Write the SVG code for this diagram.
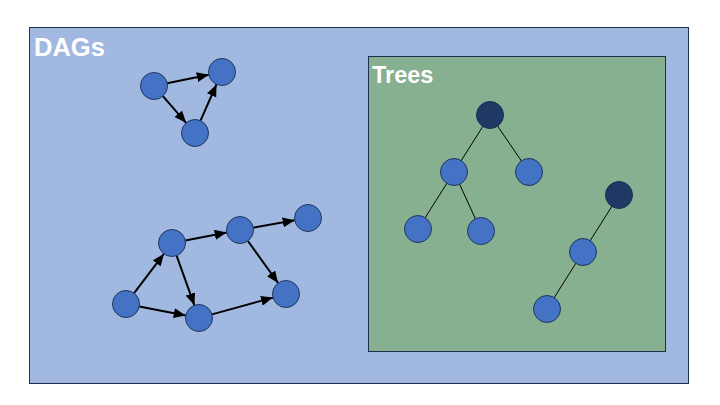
<svg xmlns="http://www.w3.org/2000/svg" width="720" height="405" viewBox="0 0 720 405">
<defs>
<marker id="ah" markerUnits="userSpaceOnUse" markerWidth="12" markerHeight="10" refX="12" refY="5" orient="auto">
<path d="M0,0 L12,5 L0,10 z" fill="#000"/>
</marker>
<style>
.node{fill:#4472C4;stroke:#22365E;stroke-width:1}
.root{fill:#1F3864;stroke:#1A2E52;stroke-width:1}
.arrow{stroke:#000;stroke-width:2;fill:none;marker-end:url(#ah)}
.tedge{stroke:#000;stroke-width:1;fill:none}
.title{font-family:"Liberation Sans",Arial,sans-serif;font-weight:bold;fill:#fff}
</style>
</defs>
<rect width="720" height="405" fill="#fff"/>
<g id="dags-panel">
<rect x="29.5" y="27.5" width="659" height="356" fill="#A1B8E0" stroke="#1F2F50" stroke-width="1"/>
<text class="title" x="34" y="56" font-size="25.5">DAGs</text>
</g>
<g id="trees-panel">
<rect x="368.5" y="56.5" width="297" height="295" fill="#86B08F" stroke="#1F2F50" stroke-width="1"/>
<text class="title" x="372" y="83" font-size="23.5">Trees</text>
</g>
<g id="connectors">
<line class="arrow" x1="167.2" y1="83.3" x2="208.8" y2="74.7"/>
<line class="arrow" x1="162.9" y1="96.2" x2="186.1" y2="122.8"/>
<line class="arrow" x1="200.5" y1="120.6" x2="216.5" y2="84.4"/>
<line class="arrow" x1="134.1" y1="293.2" x2="163.9" y2="253.8"/>
<line class="arrow" x1="139.3" y1="306.5" x2="185.7" y2="315.5"/>
<line class="arrow" x1="185.3" y1="240.5" x2="226.7" y2="232.5"/>
<line class="arrow" x1="176.6" y1="255.7" x2="194.4" y2="305.3"/>
<line class="arrow" x1="253.3" y1="227.7" x2="294.7" y2="220.3"/>
<line class="arrow" x1="247.9" y1="241.0" x2="278.1" y2="283.0"/>
<line class="arrow" x1="212.0" y1="314.4" x2="273.0" y2="297.6"/>
<line class="tedge" x1="490" y1="115" x2="454" y2="172"/>
<line class="tedge" x1="490" y1="115" x2="529" y2="172"/>
<line class="tedge" x1="454" y1="172" x2="418" y2="229"/>
<line class="tedge" x1="454" y1="172" x2="481" y2="231"/>
<line class="tedge" x1="619" y1="195" x2="583" y2="252"/>
<line class="tedge" x1="583" y1="252" x2="547" y2="309"/>
</g>
<g id="dag1-a"><circle class="node" cx="154" cy="86" r="13.5"/></g>
<g id="dag1-b"><circle class="node" cx="222" cy="72" r="13.5"/></g>
<g id="dag1-c"><circle class="node" cx="195" cy="133" r="13.5"/></g>
<g id="dag2-d"><circle class="node" cx="126" cy="304" r="13.5"/></g>
<g id="dag2-e"><circle class="node" cx="172" cy="243" r="13.5"/></g>
<g id="dag2-f"><circle class="node" cx="240" cy="230" r="13.5"/></g>
<g id="dag2-g"><circle class="node" cx="308" cy="218" r="13.5"/></g>
<g id="dag2-h"><circle class="node" cx="286" cy="294" r="13.5"/></g>
<g id="dag2-i"><circle class="node" cx="199" cy="318" r="13.5"/></g>
<g id="tree1-root"><circle class="root" cx="490" cy="115" r="13.5"/></g>
<g id="tree1-l"><circle class="node" cx="454" cy="172" r="13.5"/></g>
<g id="tree1-r"><circle class="node" cx="529" cy="172" r="13.5"/></g>
<g id="tree1-ll"><circle class="node" cx="418" cy="229" r="13.5"/></g>
<g id="tree1-lr"><circle class="node" cx="481" cy="231" r="13.5"/></g>
<g id="tree2-root"><circle class="root" cx="619" cy="195" r="13.5"/></g>
<g id="tree2-m"><circle class="node" cx="583" cy="252" r="13.5"/></g>
<g id="tree2-mm"><circle class="node" cx="547" cy="309" r="13.5"/></g>
</svg>
